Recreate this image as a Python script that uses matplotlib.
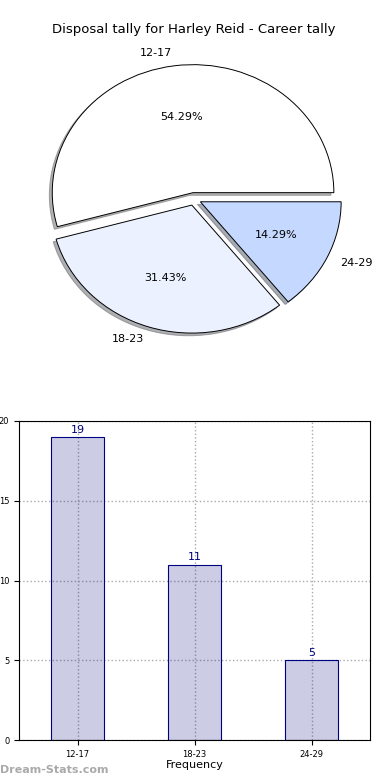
import matplotlib
matplotlib.use("Agg")
import matplotlib.pyplot as plt

categories = ["12-17", "18-23", "24-29"]
counts = [19, 11, 5]
pie_colors = ["#ffffff", "#ebf1ff", "#c5d8ff"]
title = "Disposal tally for Harley Reid - Career tally"

fig = plt.figure(figsize=(3.9, 7.8), dpi=100)

# pie
ax1 = fig.add_axes([18/390, (780-359)/780, 352/390, 320/780])
wedges, texts, autotexts = ax1.pie(
    counts, labels=categories, colors=pie_colors, explode=[0.05]*3,
    autopct="%1.2f%%", shadow={"ox": -0.015, "oy": -0.015, "shade": 0.6},
    startangle=0,
    wedgeprops=dict(edgecolor="black", linewidth=0.7),
    textprops=dict(fontsize=8))
ax1.set_aspect("auto")
ax1.set_xlim(-1.25, 1.25)
ax1.set_ylim(-1.25, 1.25)
ax1.set_title(title, fontsize=9.5, pad=4)

# bars
ax2 = fig.add_axes([19/390, 40/780, 351/390, 319/780])
x = list(range(len(categories)))
bars = ax2.bar(x, counts, width=0.45, color="navy", alpha=0.2, zorder=2)
ax2.bar(x, counts, width=0.45, fill=False, edgecolor="navy", linewidth=0.8, zorder=2.1)
for xi, c in zip(x, counts):
    ax2.text(xi, c + 0.15, str(c), ha="center", va="bottom", color="navy", fontsize=8)
ax2.set_xlim(-0.5, 2.5)
ax2.set_ylim(0, 20)
ax2.set_xticks(x)
ax2.set_xticklabels(categories, fontsize=6)
ax2.set_yticks([0, 5, 10, 15, 20])
ax2.tick_params(axis="y", labelsize=6)
ax2.set_axisbelow(True)
ax2.grid(True, linestyle=":", color="#aaaaaa", linewidth=1)
ax2.set_xlabel("Frequency", fontsize=8, labelpad=1)
ax2.set_ylabel("Disposal tally", fontsize=8, labelpad=4)

fig.text(0.0, 1-770/780, "Dream-Stats.com", fontsize=8, color="#aaaaaa",
         fontweight="bold", va="center", ha="left")

fig.savefig("out.png", dpi=100)
